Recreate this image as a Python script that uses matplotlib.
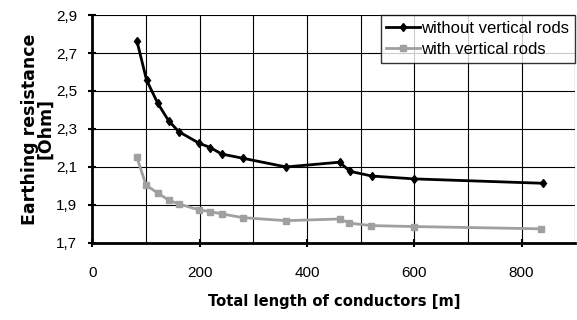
import matplotlib.pyplot as plt
from matplotlib.ticker import MultipleLocator, FuncFormatter

plt.rcParams['font.family'] = ['Liberation Sans', 'DejaVu Sans']

# total length of conductors [m]
length_without = [83, 101, 122, 142, 161, 199, 220, 241, 280, 361, 461, 480, 521, 600, 839]
res_without = [2.765, 2.558, 2.435, 2.344, 2.286, 2.225, 2.202, 2.168, 2.146, 2.100, 2.125, 2.077, 2.052, 2.037, 2.014]

length_with = [83, 100, 122, 142, 161, 199, 219, 241, 280, 361, 461, 479, 520, 600, 837]
res_with = [2.151, 2.005, 1.962, 1.926, 1.905, 1.874, 1.865, 1.853, 1.833, 1.817, 1.826, 1.804, 1.791, 1.786, 1.774]

yticks = [1.7, 1.9, 2.1, 2.3, 2.5, 2.7, 2.9]

fig = plt.figure(figsize=(5.77, 3.2), dpi=100)
ax = fig.add_axes([0.16, 0.241, 0.837, 0.712])

ax.plot(length_without, res_without, color='black', lw=2, marker='d', ms=4.5,
        label='without vertical rods')
ax.plot(length_with, res_with, color='#a0a0a0', lw=2, marker='s', ms=4.5,
        label='with vertical rods')

ax.set_xlim(0, 900)
ax.set_ylim(1.7, 2.9)
ax.xaxis.set_major_locator(MultipleLocator(200))
ax.xaxis.set_minor_locator(MultipleLocator(100))
ax.set_yticks(yticks)
ax.yaxis.set_major_formatter(FuncFormatter(lambda v, p: f'{v:.1f}'.replace('.', ',')))
ax.grid(True, which='both', color='black', lw=0.8)
ax.tick_params(which='major', direction='inout', length=6, width=1.5, labelsize=11)
ax.tick_params(which='minor', length=0)
ax.tick_params(axis='x', pad=14)
ax.tick_params(axis='y', pad=8)
for s in ['top', 'right']:
    ax.spines[s].set_visible(False)
for s in ['left', 'bottom']:
    ax.spines[s].set_linewidth(2)

ax.set_xlabel('Total length of conductors [m]', fontweight='bold', fontsize=10.6,
              family='DejaVu Sans', labelpad=10)
ax.set_ylabel('Earthing resistance\n[Ohm]', fontweight='bold', fontsize=12.5,
              family='DejaVu Sans', linespacing=0.85, labelpad=1)

leg = ax.legend(loc='upper right', fontsize=12, frameon=True, fancybox=False,
                borderpad=0.35, handlelength=2.0, handletextpad=0.1,
                borderaxespad=0, labelspacing=0.35)
leg.get_frame().set_edgecolor('black')
leg.get_frame().set_linewidth(1)

fig.savefig('out.png', dpi=100)
